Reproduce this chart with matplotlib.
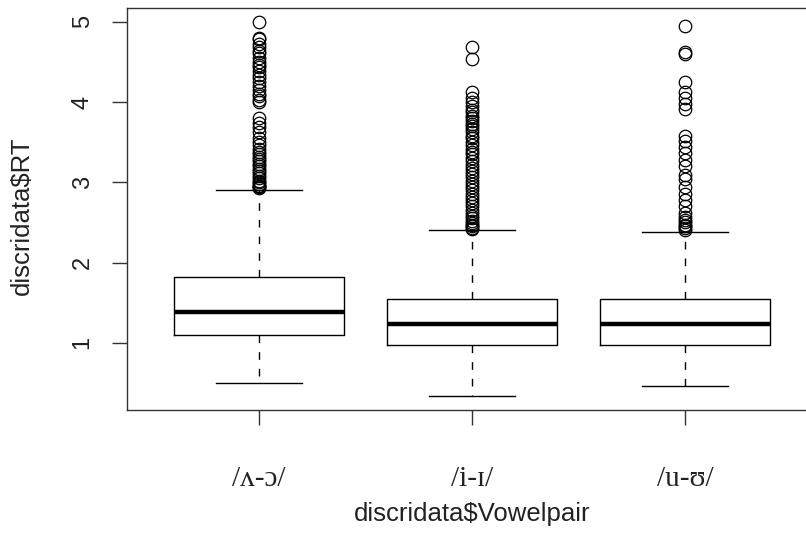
import matplotlib
matplotlib.use("Agg")
import matplotlib.pyplot as plt

# Vowel pair groups and their box statistics
groups = ["/ʌ-ɔ/", "/i-ɪ/", "/u-ʊ/"]
q1 = [1.10, 0.975, 0.975]
median = [1.39, 1.23, 1.24]
q3 = [1.82, 1.55, 1.55]
whisk_lo = [0.50, 0.34, 0.46]
whisk_hi = [2.91, 2.40, 2.38]

# outliers above the upper whisker
out_1 = [4.99, 4.80, 4.78, 4.72, 4.69, 4.64, 4.61, 4.55, 4.50, 4.46, 4.43, 4.38,
         4.34, 4.30, 4.25, 4.20, 4.15, 4.10, 4.07, 4.03, 4.00,
         3.80, 3.74, 3.69, 3.62, 3.55, 3.50, 3.46, 3.42, 3.38, 3.35, 3.32, 3.29,
         3.26, 3.23, 3.20, 3.17, 3.14, 3.11, 3.08, 3.05, 3.02, 3.00, 2.98,
         2.96, 2.95, 2.94, 2.93]
out_2 = [4.68, 4.53, 4.12, 4.05, 4.00, 3.95, 3.90, 3.87, 3.83, 3.80, 3.76, 3.73,
         3.70, 3.66, 3.62, 3.58, 3.55, 3.50, 3.46, 3.42, 3.38, 3.35, 3.30, 3.26,
         3.22, 3.18, 3.14, 3.10, 3.06, 3.02, 2.98, 2.94, 2.90, 2.86, 2.82, 2.78,
         2.74, 2.70, 2.66, 2.62, 2.58, 2.55, 2.52, 2.49, 2.47, 2.45, 2.43, 2.42]
out_3 = [4.94, 4.62, 4.60, 4.25, 4.12, 4.05, 3.97, 3.91, 3.58, 3.52, 3.44,
         3.36, 3.28, 3.20, 3.09, 3.04, 2.94, 2.86, 2.78, 2.70, 2.62, 2.57,
         2.53, 2.50, 2.47, 2.45, 2.43, 2.41]
outliers = [out_1, out_2, out_3]

y_ticks = [1, 2, 3, 4, 5]

stats = []
for i in range(len(groups)):
    stats.append({
        "med": median[i], "q1": q1[i], "q3": q3[i],
        "whislo": whisk_lo[i], "whishi": whisk_hi[i],
        "fliers": outliers[i],
    })

sans = ["Liberation Sans", "DejaVu Sans"]
serif = ["Liberation Serif", "DejaVu Serif"]

fig = plt.figure(figsize=(8.06, 5.36), dpi=100)
# axes box runs past the right edge of the picture, like the cropped original
ax = fig.add_axes([127 / 806, 126 / 536, 679 / 806, 402 / 536])

ax.bxp(stats, positions=[1, 2, 3], widths=0.8, showfliers=True,
       boxprops=dict(color="black", linewidth=1.0),
       medianprops=dict(color="black", linewidth=3.2, solid_capstyle="butt"),
       whiskerprops=dict(color="black", linewidth=1.0, linestyle=(0, (5.5, 6.5))),
       capprops=dict(color="black", linewidth=1.0),
       capwidths=0.4,
       flierprops=dict(marker="o", markerfacecolor="none",
                       markeredgecolor="black", markersize=9,
                       markeredgewidth=0.9, linestyle="none"))

ax.set_xlim(0.38, 3.568)
ax.set_ylim(0.165, 5.17)

for side in ["left", "top", "bottom"]:
    ax.spines[side].set_color("#333333")
    ax.spines[side].set_linewidth(1.0)
ax.spines["right"].set_visible(False)

ax.set_yticks(y_ticks)
ax.set_yticklabels([str(t) for t in y_ticks], rotation=90, va="center",
                   fontsize=17, family=sans, color="#222222")
ax.set_xticks([1, 2, 3])
ax.set_xticklabels(groups, fontsize=21, family=serif, color="#222222")
ax.tick_params(axis="y", length=11, width=1.0, color="#333333", pad=13)
ax.tick_params(axis="x", length=11, width=1.0, color="#333333", pad=29)

ax.set_xlabel("discridata$Vowelpair", fontsize=18.5, family=sans,
              color="#222222")
ax.set_ylabel("discridata$RT", fontsize=18.5, family=sans, color="#222222")
ax.xaxis.set_label_coords(0.508, -0.228)
ax.yaxis.set_label_coords(-0.137, 0.483)

fig.savefig("out.png", dpi=100)
